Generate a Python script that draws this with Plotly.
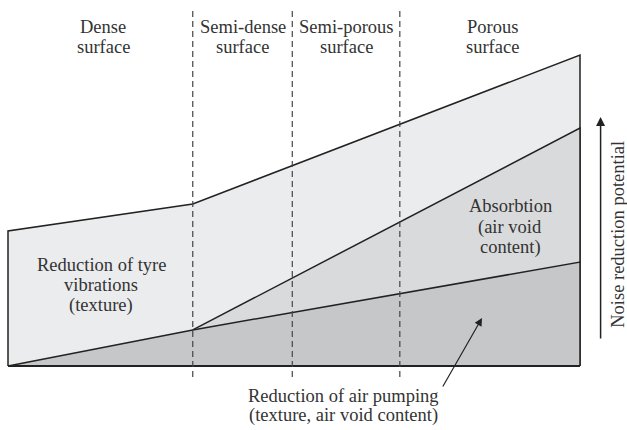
import plotly.graph_objects as go

# ---- data (x: position along the surface spectrum 0..100, y: noise reduction potential, arbitrary units)
boundaries = [32.3, 49.7, 68.5]           # dashed dividers between surface types
outer_x = [0, 0, 32.3, 100, 100]          # total potential envelope
outer_y = [0, 43.4, 52.1, 100, 0]
absorb_x = [32.3, 100, 100]               # absorption wedge
absorb_y = [11.6, 76.5, 33.4]
pump_x = [0, 32.3, 100, 100]              # air-pumping reduction
pump_y = [0, 11.6, 33.4, 0]

surface_labels = [["Dense", "surface"], ["Semi-dense", "surface"],
                  ["Semi-porous", "surface"], ["Porous", "surface"]]
surface_label_x = [16.68, 41.0, 59.23, 84.76]
tyre_label = ["Reduction of tyre", "vibrations", "(texture)"]
absorb_label = ["Absorbtion", "(air void", "content)"]
pump_label = ["Reduction of air pumping", "(texture, air void content)"]
axis_label = "Noise reduction potential"

LINE = "#222222"
TXT = "#333333"
FONT = "Liberation Serif"
FS = 18.5

fig = go.Figure()
fig.add_trace(go.Scatter(x=outer_x, y=outer_y, fill="toself", fillcolor="#ebeced",
                         mode="lines", line=dict(color=LINE, width=1.5), hoverinfo="skip"))
fig.add_trace(go.Scatter(x=absorb_x, y=absorb_y, fill="toself", fillcolor="#d9dadb",
                         mode="lines", line=dict(color=LINE, width=1.5), hoverinfo="skip"))
fig.add_trace(go.Scatter(x=pump_x, y=pump_y, fill="toself", fillcolor="#c6c7c8",
                         mode="lines", line=dict(color=LINE, width=1.5), hoverinfo="skip"))
fig.add_trace(go.Scatter(x=[0, 100], y=[0, 0], mode="lines",
                         line=dict(color=LINE, width=2), hoverinfo="skip"))

for b in boundaries:
    fig.add_shape(type="line", x0=b, x1=b, y0=-3.5, y1=114.5, xref="x", yref="y",
                  line=dict(color="#444444", width=1.2, dash="6px,4px"), layer="above")

ann = []
def add_lines(lines, x, y_first, step):
    for i, t in enumerate(lines):
        ann.append(dict(x=x, y=y_first - i * step, text=t, showarrow=False, xref="x", yref="y",
                        font=dict(family=FONT, size=FS, color=TXT), align="center"))

for lab, lx in zip(surface_labels, surface_label_x):
    add_lines(lab, lx, 109.0, 6.43)
add_lines(tyre_label, 16.29, 32.48, 6.5)
add_lines(absorb_label, 87.81, 51.35, 6.7)
add_lines(pump_label, 58.65, -9.49, 6.5)

# small pointer arrow
ann.append(dict(x=82.87, y=15.43, ax=75.87, ay=-7.07, xref="x", yref="y", axref="x", ayref="y",
                text="", showarrow=True, arrowhead=2, arrowsize=1.3, arrowwidth=1.2, arrowcolor=LINE))
# vertical axis arrow
ann.append(dict(x=103.6, y=80.06, ax=103.6, ay=8.36, xref="x", yref="y", axref="x", ayref="y",
                text="", showarrow=True, arrowhead=2, arrowsize=1.2, arrowwidth=1.5, arrowcolor=LINE))
ann.append(dict(x=106.64, y=42.5, text=axis_label, textangle=-90, showarrow=False,
                xref="x", yref="y", font=dict(family=FONT, size=FS, color=TXT)))

fig.update_layout(
    width=627, height=430, margin=dict(l=0, r=0, t=0, b=0),
    paper_bgcolor="white", plot_bgcolor="white", showlegend=False,
    annotations=ann,
    xaxis=dict(range=[-1.3986, 108.217], visible=False, fixedrange=True),
    yaxis=dict(range=[-20.58, 117.68], visible=False, fixedrange=True),
)
fig.write_html("out.html", config={"displayModeBar": False},
               post_script="document.body.style.margin='0';document.body.style.overflow='hidden';")
